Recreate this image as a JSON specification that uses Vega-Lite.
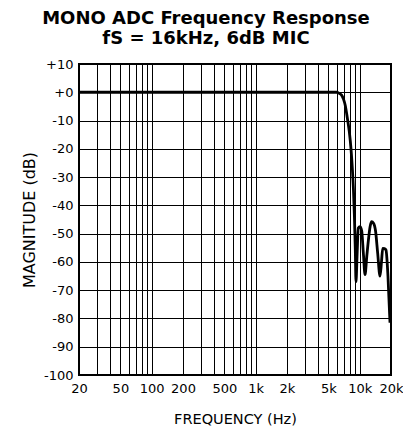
{
  "$schema": "https://vega.github.io/schema/vega-lite/v6.json",
  "autosize": "none",
  "width": 312,
  "height": 311,
  "padding": {"left": 79, "top": 64, "right": 12, "bottom": 57},
  "background": "white",
  "title": {
    "text": "MONO ADC Frequency Response",
    "subtitle": "fS = 16kHz, 6dB MIC",
    "anchor": "middle",
    "dx": -29,
    "offset": 10,
    "font": "DejaVu Sans",
    "fontSize": 18,
    "fontWeight": "bold",
    "color": "black",
    "subtitleFont": "DejaVu Sans",
    "subtitleFontSize": 18,
    "subtitleFontWeight": "bold",
    "subtitleColor": "black",
    "subtitlePadding": 2
  },
  "config": {
    "view": {"stroke": "black", "strokeWidth": 2},
    "axis": {
      "domain": false,
      "ticks": false,
      "grid": true,
      "gridColor": "black",
      "gridOpacity": 1,
      "gridWidth": 1,
      "labelFont": "DejaVu Sans",
      "labelFontSize": 13,
      "labelColor": "black",
      "titleFont": "DejaVu Sans",
      "titleFontWeight": "normal",
      "titleColor": "black"
    }
  },
  "data": {
    "values": [
      {"f": 20, "db": 0},
      {"f": 50, "db": 0},
      {"f": 200, "db": 0},
      {"f": 1000, "db": 0},
      {"f": 3000, "db": 0},
      {"f": 5000, "db": 0},
      {"f": 6000, "db": 0},
      {"f": 6300, "db": -0.3},
      {"f": 6700, "db": -1.0},
      {"f": 7000, "db": -2.5},
      {"f": 7250, "db": -4.5},
      {"f": 7600, "db": -9},
      {"f": 7950, "db": -14},
      {"f": 8250, "db": -20},
      {"f": 8500, "db": -27},
      {"f": 8700, "db": -34},
      {"f": 8900, "db": -44},
      {"f": 9080, "db": -56},
      {"f": 9210, "db": -67},
      {"f": 9450, "db": -57},
      {"f": 9700, "db": -48},
      {"f": 10070, "db": -47.5},
      {"f": 10450, "db": -49},
      {"f": 10850, "db": -57},
      {"f": 11250, "db": -64.5},
      {"f": 11700, "db": -58},
      {"f": 12150, "db": -52},
      {"f": 12600, "db": -47.5},
      {"f": 13030, "db": -45.8},
      {"f": 13580, "db": -46.3},
      {"f": 14200, "db": -49},
      {"f": 14900, "db": -57},
      {"f": 15680, "db": -65},
      {"f": 16200, "db": -60},
      {"f": 16650, "db": -55.2},
      {"f": 17300, "db": -55.3},
      {"f": 17900, "db": -55.8},
      {"f": 18700, "db": -65},
      {"f": 19560, "db": -81.5}
    ]
  },
  "mark": {"type": "line", "color": "black", "strokeWidth": 2.8, "strokeJoin": "round", "interpolate": "monotone"},
  "encoding": {
    "x": {
      "field": "f",
      "type": "quantitative",
      "scale": {"type": "log", "domain": [20, 20000], "nice": false},
      "axis": {
        "title": "FREQUENCY (Hz)",
        "titleFontSize": 14.5,
        "titlePadding": 17,
        "labelPadding": 7,
        "labelOverlap": false,
        "labelFlush": false,
        "values": [20, 30, 40, 50, 60, 70, 80, 90, 100, 200, 300, 400, 500, 600, 700, 800, 900, 1000, 2000, 3000, 4000, 5000, 6000, 7000, 8000, 9000, 10000, 20000],
        "labelExpr": "indexof([20,50,100,200,500,1000,2000,5000,10000,20000], datum.value) >= 0 ? (datum.value >= 1000 ? (datum.value / 1000) + 'k' : '' + datum.value) : ''"
      }
    },
    "y": {
      "field": "db",
      "type": "quantitative",
      "scale": {"domain": [-100, 10], "nice": false},
      "axis": {
        "title": "MAGNITUDE (dB)",
        "titleFontSize": 16,
        "titlePadding": 6,
        "labelPadding": 6,
        "labelOverlap": false,
        "labelFlush": false,
        "values": [-100, -90, -80, -70, -60, -50, -40, -30, -20, -10, 0, 10],
        "labelExpr": "datum.value >= 0 ? '+' + datum.value : '' + datum.value"
      }
    }
  }
}
